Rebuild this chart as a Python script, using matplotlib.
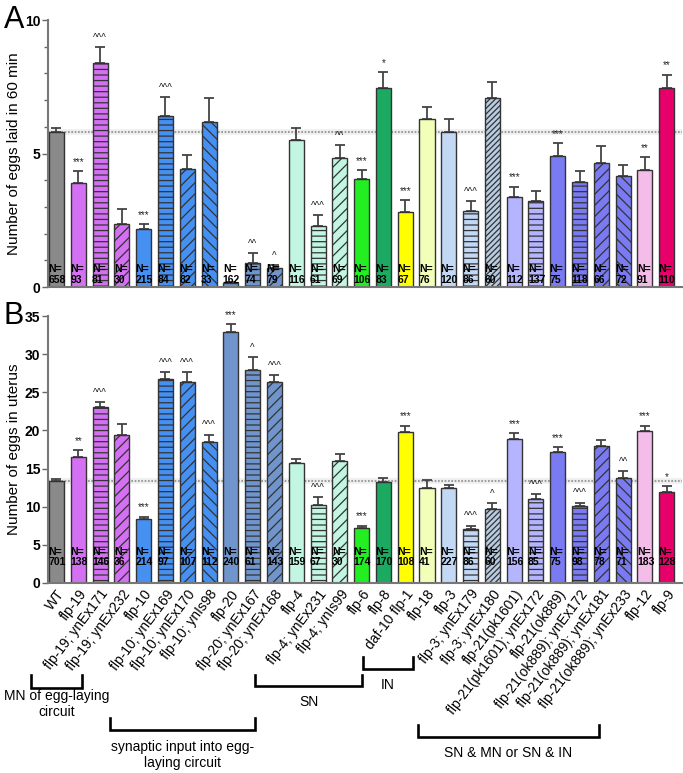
import numpy as np
import matplotlib
matplotlib.use('Agg')
import matplotlib.pyplot as plt
from matplotlib.lines import Line2D

plt.rcParams['font.family'] = ['Liberation Sans', 'DejaVu Sans']
plt.rcParams['hatch.linewidth'] = 0.9

labels = ['WT', 'flp-19', 'flp-19; ynEx171', 'flp-19; ynEx232', 'flp-10',
          'flp-10; ynEx169', 'flp-10; ynEx170', 'flp-10; ynIs98', 'flp-20',
          'flp-20; ynEx167', 'flp-20; ynEx168', 'flp-4', 'flp-4; ynEx231',
          'flp-4; ynIs99', 'flp-6', 'flp-8', 'daf-10 flp-1', 'flp-18', 'flp-3',
          'flp-3; ynEx179', 'flp-3; ynEx180', 'flp-21(pk1601)',
          'flp-21(pk1601); ynEx172', 'flp-21(ok889)', 'flp-21(ok889); ynEx172',
          'flp-21(ok889); ynEx181', 'flp-21(ok889); ynEx233', 'flp-12', 'flp-9']

# panel A: eggs laid in 60 min
laid_mean = [5.79, 3.91, 8.40, 2.36, 2.16, 6.39, 4.41, 6.18, 0.14, 0.89, 0.70,
             5.49, 2.30, 4.82, 4.03, 7.44, 2.80, 6.28, 5.79, 2.86, 7.07, 3.38,
             3.23, 4.91, 3.92, 4.63, 4.15, 4.39, 7.44]
laid_err = [0.15, 0.42, 0.60, 0.56, 0.19, 0.71, 0.55, 0.89, 0.05, 0.37, 0.12,
            0.45, 0.40, 0.49, 0.36, 0.61, 0.46, 0.47, 0.49, 0.36, 0.60, 0.38,
            0.37, 0.49, 0.44, 0.64, 0.42, 0.48, 0.51]
laid_sig = ['', '***', '^^^', '', '***', '^^^', '', '', '', '^^', '^', '',
            '^^^', '^^', '***', '*', '***', '', '', '^^^', '', '***', '',
            '***', '', '', '', '**', '**']
laid_n = [658, 93, 81, 30, 215, 84, 82, 33, 162, 74, 79, 116, 61, 69, 106, 83,
          67, 76, 120, 86, 60, 112, 137, 75, 118, 66, 72, 91, 110]

# panel B: eggs in uterus
uterus_mean = [13.39, 16.58, 23.06, 19.38, 8.36, 26.7, 26.3, 18.46, 32.85,
               27.9, 26.3, 15.75, 10.2, 15.97, 7.17, 13.3, 19.73, 12.42, 12.42,
               7.04, 9.75, 18.9, 11.02, 17.15, 10.1, 17.98, 13.74, 19.86, 11.98]
uterus_err = [0.26, 0.83, 0.65, 1.4, 0.34, 1.0, 1.3, 1.0, 1.1, 1.7, 1.0, 0.55,
              1.05, 1.0, 0.35, 0.5, 0.91, 1.08, 0.48, 0.48, 0.7, 0.7, 0.68,
              0.7, 0.44, 0.82, 0.92, 0.78, 0.71]
uterus_sig = ['', '**', '^^^', '', '***', '^^^', '^^^', '^^^', '***', '^',
              '^^^', '', '^^^', '', '***', '', '***', '', '', '^^^', '^',
              '***', '^^^', '***', '^^^', '', '^^', '***', '*']
uterus_n = [701, 138, 146, 36, 214, 97, 107, 112, 240, 61, 143, 159, 67, 30,
            174, 170, 108, 41, 227, 86, 60, 156, 85, 75, 98, 78, 71, 183, 128]

colors = ['#8a8a8a', '#d470f2', '#d470f2', '#d470f2', '#4690f2', '#4690f2',
          '#4690f2', '#4690f2', '#7094cc', '#7094cc', '#7094cc', '#c2f6e2',
          '#c2f6e2', '#c2f6e2', '#22ee22', '#1caa62', '#ffff00', '#f2ffb8',
          '#c2d8f4', '#c2d8f4', '#b8cce2', '#b4b4ff', '#b4b4ff', '#7a7af2',
          '#7a7af2', '#7a7af2', '#7a7af2', '#f4bce8', '#e8006a']
hatches = ['', '', '---', '///', '', '---', '///', '\\\\\\', '', '---', '///',
           '', '---', '///', '', '', '', '', '', '---', '//////', '', '---',
           '', '---', '///', '\\\\\\', '', '']

groups = [
    ('MN of egg-laying\ncircuit', 31, 82, 675, 688, 704),
    ('synaptic input into egg-\nlaying circuit', 110, 255, 718, 730, 755),
    ('SN', 255, 362, 675, 686, 702),
    ('IN', 363, 413, 657, 669, 685),
    ('SN & MN or SN & IN', 418, 599, 725, 737, 753),
]

W, H = 683, 773
fig = plt.figure(figsize=(W / 100, H / 100), dpi=100)
x = np.arange(len(labels))


def panel(rect, mean, err, sig, nlab, ymax, major, minor, ylabel, n_y):
    ax = fig.add_axes(rect)
    ax.axhline(mean[0], color='#eeeeee', lw=4, zorder=0)
    ax.axhline(mean[0], color='#8c8c8c', lw=1.2, ls=(0, (1, 1)), zorder=0.5)
    ax.bar(x, mean, 0.69, color=colors, edgecolor='#333333', linewidth=1.0,
           hatch=hatches, zorder=2)
    ax.errorbar(x, mean, yerr=[np.zeros(len(x)), err], fmt='none',
                ecolor='#444444', elinewidth=1.3, capsize=3.5, capthick=1.3,
                zorder=1.5)
    for i in x:
        if sig[i]:
            ax.annotate(sig[i], (i, mean[i] + err[i]), xytext=(0, 3),
                        textcoords='offset points', ha='center', va='bottom',
                        fontsize=7, color='#222222')
        ax.text(i - 0.37, n_y[0], 'N=', fontsize=7.5, fontweight='bold',
                ha='left', va='center', zorder=3)
        ax.text(i - 0.37, n_y[1], str(nlab[i]), fontsize=7.5,
                fontweight='bold', ha='left', va='center', zorder=3)
    ax.set_xlim(-0.39, 28.7)
    ax.set_ylim(0, ymax)
    ax.set_yticks(np.arange(0, ymax + 0.01, major))
    ax.set_yticks(np.arange(0, ymax + 0.01, minor), minor=True)
    ax.tick_params(axis='y', which='major', labelsize=10, length=4, width=1,
                   color='#666666', pad=1.5)
    ax.tick_params(axis='y', which='minor', length=3, width=1, color='#666666')
    for t in ax.get_yticklabels():
        t.set_fontweight('bold')
    ax.tick_params(axis='x', length=0)
    for s in ('top', 'right'):
        ax.spines[s].set_visible(False)
    for s in ('left', 'bottom'):
        ax.spines[s].set_color('#777777')
        ax.spines[s].set_linewidth(1.5)
    ax.set_ylabel(ylabel, fontsize=11, labelpad=3)
    return ax


axA = panel([48 / W, 1 - 287 / H, 634 / W, 267 / H], laid_mean, laid_err,
            laid_sig, laid_n, 10, 5, 1, 'Number of eggs laid in 60 min',
            (0.67, 0.26))
axA.set_xticks(x, [''] * len(x))

axB = panel([48 / W, 1 - 583 / H, 634 / W, 267 / H], uterus_mean, uterus_err,
            uterus_sig, uterus_n, 35, 5, 5, 'Number of eggs in uterus',
            (4.07, 2.76))
axB.set_xticks(x, labels, rotation=53, ha='right', va='top',
               rotation_mode='anchor', fontsize=10)
axB.tick_params(axis='x', pad=3)

fig.text(4 / W, 1 - 5 / H, 'A', fontsize=22, va='top', ha='left')
fig.text(4 / W, 1 - 301 / H, 'B', fontsize=22, va='top', ha='left')

for text, x0, x1, ytop, ybot, ytext in groups:
    px = [x0, x0, x1, x1]
    py = [ytop, ybot, ybot, ytop]
    fig.add_artist(Line2D([p / W for p in px], [1 - p / H for p in py],
                          color='black', lw=1.9, solid_joinstyle='miter'))
    fig.text((x0 + x1) / 2 / W, 1 - ytext / H, text, ha='center', va='center',
             fontsize=10, linespacing=1.15)

fig.savefig('out.png', dpi=100)
